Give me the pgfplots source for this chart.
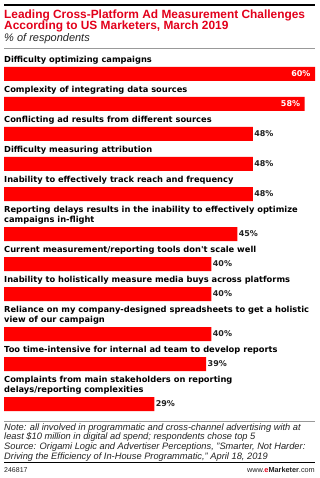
\documentclass[border=0pt]{standalone}
\usepackage{pgfplots}
\pgfplotsset{compat=1.18}
\usepackage{fontspec}
\setmainfont{Liberation Sans}
\newfontfamily\labfont{DejaVu Sans}
\definecolor{barred}{HTML}{FF0000}
\definecolor{titlered}{HTML}{E2001A}
\definecolor{txt}{HTML}{222222}
\definecolor{rulegray}{HTML}{999999}
\begin{document}
\begin{tikzpicture}
\begin{axis}[
  width=319pt, height=478pt, scale only axis,
  xmin=-0.772, xmax=60.77,
  ymin=0, ymax=478, y dir=reverse,
  hide axis, clip=false,
  xbar, bar width=14pt,
  bar shift=0pt,
  /pgf/number format/assume math mode=true,
]
\path (axis cs:-0.772,0) rectangle (axis cs:60.77,478);
% bars with labels inside
\addplot[fill=barred, draw=none,
  nodes near coords={\pgfmathprintnumber{\pgfplotspointmeta}\%},
  nodes near coords style={anchor=east, text=white, font=\labfont\bfseries\fontsize{8}{10}\selectfont, xshift=-1pt},
  point meta=x]
  coordinates {(60,74) (58,104)};
% bars with labels outside
\addplot[fill=barred, draw=none,
  nodes near coords={\pgfmathprintnumber{\pgfplotspointmeta}\%},
  nodes near coords style={anchor=west, text=txt, font=\labfont\bfseries\fontsize{8}{10}\selectfont, xshift=-2pt},
  point meta=x]
  coordinates {(48,134) (48,164) (48,194) (45,234) (40,264) (40,294) (40,334) (39,364) (29,404)};

% rules
\draw[black, line width=2pt] (axis cs:0,5) -- (axis cs:60,5);
\draw[rulegray, line width=0.8pt] (axis cs:0,48) -- (axis cs:60,48);
\draw[rulegray, line width=0.8pt] (axis cs:0,421) -- (axis cs:60,421);
\draw[black, line width=1.6pt] (axis cs:0,462.5) -- (axis cs:60,462.5);

% title
\begin{scope}[every node/.style={anchor=base west, inner sep=0pt}]
\node[text=titlered, font=\bfseries\fontsize{11.9}{12}\selectfont] at (axis cs:0,18.3) {Leading Cross-Platform Ad Measurement Challenges};
\node[text=titlered, font=\bfseries\fontsize{11.9}{12}\selectfont] at (axis cs:0,29.3) {According to US Marketers, March 2019};
\node[text=txt, font=\itshape\fontsize{11}{12}\selectfont] at (axis cs:0,42) {\% of respondents};

% category labels
\begin{scope}[font=\labfont\bfseries\fontsize{8.3}{10}\selectfont, text=black]
\node at (axis cs:0,62.5) {Difficulty optimizing campaigns};
\node at (axis cs:0,92.5) {Complexity of integrating data sources};
\node at (axis cs:0,122.5) {Conflicting ad results from different sources};
\node at (axis cs:0,152.5) {Difficulty measuring attribution};
\node at (axis cs:0,182.5) {Inability to effectively track reach and frequency};
\node at (axis cs:0,212.5) {Reporting delays results in the inability to effectively optimize};
\node at (axis cs:0,222.5) {campaigns in-flight};
\node at (axis cs:0,252.5) {Current measurement/reporting tools don't scale well};
\node at (axis cs:0,282.5) {Inability to holistically measure media buys across platforms};
\node at (axis cs:0,312.5) {Reliance on my company-designed spreadsheets to get a holistic};
\node at (axis cs:0,322.5) {view of our campaign};
\node at (axis cs:0,352.5) {Too time-intensive for internal ad team to develop reports};
\node at (axis cs:0,382.5) {Complaints from main stakeholders on reporting};
\node at (axis cs:0,392.5) {delays/reporting complexities};
\end{scope}

% notes
\begin{scope}[font=\itshape\fontsize{9.3}{10}\selectfont, text=txt]
\node at (axis cs:0,430) {Note: all involved in programmatic and cross-channel advertising with at};
\node at (axis cs:0,439.7) {least \$10 million in digital ad spend; respondents chose top 5};
\node at (axis cs:0,449.4) {Source: Origami Logic and Advertiser Perceptions, "Smarter, Not Harder:};
\node at (axis cs:0,459.1) {Driving the Efficiency of In-House Programmatic," April 18, 2019};
\end{scope}
\node[font=\fontsize{7}{8}\selectfont, text=txt] at (axis cs:0,472.7) {246817};
\end{scope}
\node[anchor=base east, inner sep=0pt, font=\fontsize{7.3}{8}\selectfont, text=txt] at (axis cs:60,472.7) {www.{\color{titlered}\bfseries e}\textbf{Marketer}.com};
\end{axis}
\end{tikzpicture}
\end{document}
